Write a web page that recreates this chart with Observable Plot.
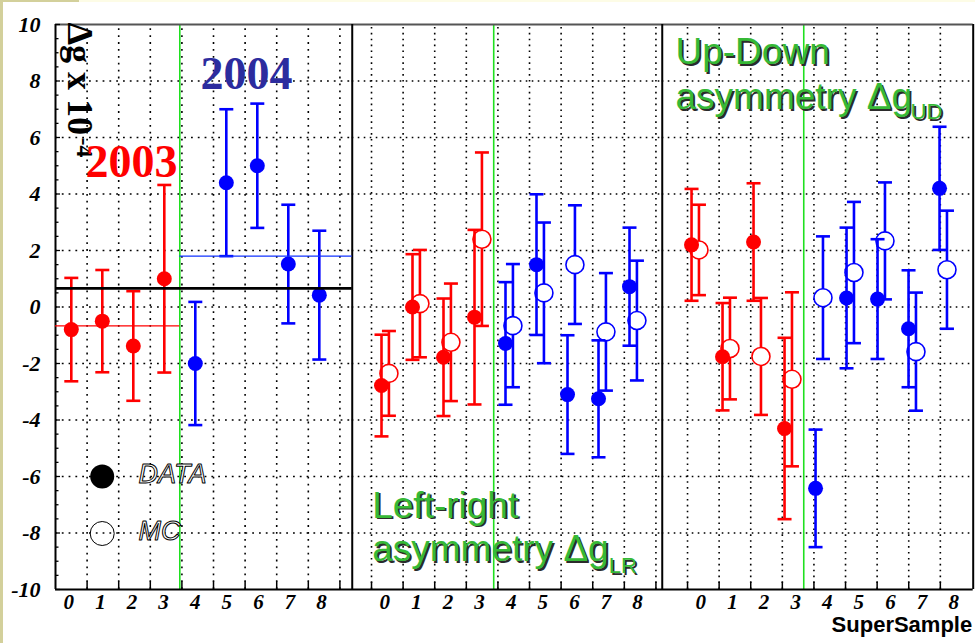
<!DOCTYPE html>
<html>
<head>
<meta charset="utf-8">
<script src="https://cdn.jsdelivr.net/npm/d3@7"></script>
<script src="https://cdn.jsdelivr.net/npm/@observablehq/plot@0.6"></script>
<style>
  html, body { margin: 0; padding: 0; background: #ffffff; }
  #wrap { position: relative; width: 975px; height: 643px; overflow: hidden; background: #ffffff; }
  #topband { position: absolute; left: 0; top: 0; width: 975px; height: 2px; background: #fdfce6; }
  #topband2 { position: absolute; left: 0; top: 0; width: 79px; height: 2px; background: #d3d09b; }
  #leftband { position: absolute; left: 0; top: 0; width: 3px; height: 643px; background: #d3d09b; }
  #chart { position: absolute; left: 0; top: 0; }
</style>
</head>
<body>
<div id="wrap">
  <div id="topband"></div><div id="topband2"></div><div id="leftband"></div>
  <div id="chart"></div>
</div>
<script>
// ---- data: g-2 asymmetries per super-sample, in units of 1e-4 ----
const samples = [0, 1, 2, 3, 4, 5, 6, 7, 8];
const sampleYear = ["2003", "2003", "2003", "2003", "2004", "2004", "2004", "2004", "2004"];

// combined Δg (data only)
const dgData    = [-0.80, -0.50, -1.38, 1.00, -2.00, 4.40, 5.00, 1.52, 0.42];
const dgDataErr = [ 1.83,  1.81,  1.94, 3.32,  2.18, 2.60, 2.20, 2.10, 2.28];

// left-right asymmetry Δg_LR
const lrData    = [-2.78, 0.00, -1.78, -0.36, -1.29, 1.50, -3.10, -3.25,  0.72];
const lrDataErr = [ 1.80, 1.87,  2.08,  3.09,  2.17, 2.49,  2.10,  2.07,  2.09];
const lrMC      = [-2.35, 0.12, -1.25,  2.40, -0.66, 0.50,  1.50, -0.88, -0.48];
const lrMCErr   = [ 1.50, 1.90,  2.08,  3.07,  2.18, 2.49,  2.10,  2.08,  2.12];

// up-down asymmetry Δg_UD
const udData    = [2.20, -1.76, 2.30, -4.30, -6.42, 0.32, 0.28, -0.77, 4.20];
const udDataErr = [1.98,  1.90, 2.08,  3.21,  2.08, 2.49, 2.12,  2.07, 2.18];
const udMC      = [2.02, -1.47, -1.75, -2.56, 0.33, 1.22, 2.34, -1.58, 1.32];
const udMCErr   = [1.60,  1.80,  2.07,  3.08, 2.17, 2.50, 2.07,  2.09, 2.09];

// weighted averages drawn in the first panel
const mean2003 = -0.67;
const mean2004 = 1.80;
const meanAll = 0.66;

const yTickValues = [10, 8, 6, 4, 2, 0, -2, -4, -6, -8, -10];
const yTickLabels = ["10", "8", "6", "4", "2", "0", "-2", "-4", "-6", "-8", "-10"];
const xTickLabels = ["0", "1", "2", "3", "4", "5", "6", "7", "8"];

// ---- layout (x axis measured in bin widths, three panels side by side) ----
const binOrigin = [0, 10, 20];            // axis bin centre of sample 0 in each panel
const panelStart = [0, 9.816, 19.627];    // where the markers of sample 0 sit
const step = 0.981;                        // marker spacing
const mcShift = 0.235;                     // MC drawn just right of DATA
const frameX = [-0.5, 8.89, 18.7, 28.54];  // panel borders

const yearColor = {"2003": "#ff0000", "2004": "#0000ff"};

const series = [
  {panel: 0, kind: "DATA", values: dgData, errs: dgDataErr},
  {panel: 1, kind: "MC",   values: lrMC,   errs: lrMCErr},
  {panel: 1, kind: "DATA", values: lrData, errs: lrDataErr},
  {panel: 2, kind: "MC",   values: udMC,   errs: udMCErr},
  {panel: 2, kind: "DATA", values: udData, errs: udDataErr}
];
const points = series.flatMap(s => samples.map(i => ({
  panel: s.panel, kind: s.kind, sample: i, year: sampleYear[i],
  v: s.values[i], e: s.errs[i]
})));
const dataPts = points.filter(d => d.kind === "DATA");
const mcPts = points.filter(d => d.kind === "MC");
const xPos = d => panelStart[d.panel] + step * d.sample + (d.kind === "MC" ? mcShift : 0);

// year boundary inside each panel
const boundaries = [0, 1, 2].map(p => panelStart[p] + step * 3.5 + (p > 0 ? mcShift / 2 : 0));

// bin edges (grid + ticks)
const edges = [
  ...d3.range(0, 9).map(k => binOrigin[0] + k + 0.5),
  ...d3.range(-1, 9).map(k => binOrigin[1] + k + 0.5),
  ...d3.range(-1, 8).map(k => binOrigin[2] + k + 0.5)
];
const edgesP1 = edges.filter(x => x < frameX[1]);
const edgesP23 = edges.filter(x => x > frameX[1]);
const gridY = [-8, -6, -4, -2, 0, 2, 4, 6, 8];
const gridRowsP1 = gridY.map(y => ({y, x1: frameX[0], x2: frameX[1]}));
const gridRowsP23 = gridY.flatMap(y => [1, 2].map(p => ({y, x1: frameX[p], x2: frameX[p + 1]})));

const xLabels = [0, 1, 2].flatMap(p => samples.map(i => ({x: binOrigin[p] + i, label: xTickLabels[i]})));
const yLabels = yTickValues.map((v, k) => ({v, label: yTickLabels[k]}));
const minorY = d3.range(-10, 10.01, 0.5);

// small stroke-only symbols
const capSymbol = {draw(ctx, size) { const w = Math.sqrt(size / Math.PI); ctx.moveTo(-w, 0); ctx.lineTo(w, 0); }};
const tickUp = {draw(ctx, size) { const w = Math.sqrt(size / Math.PI); ctx.moveTo(0, 0); ctx.lineTo(0, -w); }};
const tickRight = {draw(ctx, size) { const w = Math.sqrt(size / Math.PI); ctx.moveTo(0, 0); ctx.lineTo(w, 0); }};

const serif = "'Liberation Serif', 'DejaVu Serif', serif";
const sans = "'Liberation Sans', Arial, sans-serif";
const green = "#36b936";

const note = (text, o) => Plot.text([text], {
  text: d => d, frameAnchor: "top-left", textAnchor: "start", lineAnchor: "middle", ...o
});
const greenNote = (text, o) => [
  note(text, {...o, fill: "#2b2b2b", dx: o.dx + 1.8, dy: o.dy + 1.8}),
  note(text, {...o, fill: green})
];

const errorBars = (pts, width) => [
  Plot.ruleX(pts, {x: xPos, y1: d => d.v - d.e, y2: d => d.v + d.e, stroke: d => yearColor[d.year], strokeWidth: width}),
  Plot.dot(pts, {x: xPos, y: d => d.v + d.e, symbol: capSymbol, r: 7, fill: "none", stroke: d => yearColor[d.year], strokeWidth: width}),
  Plot.dot(pts, {x: xPos, y: d => d.v - d.e, symbol: capSymbol, r: 7, fill: "none", stroke: d => yearColor[d.year], strokeWidth: width})
];

const chart = Plot.plot({
  width: 975,
  height: 643,
  marginLeft: 55,
  marginRight: 2.3,
  marginTop: 24,
  marginBottom: 54,
  x: {domain: [frameX[0], frameX[3]], axis: null},
  y: {domain: [-10, 10], axis: null},
  style: {background: "transparent", overflow: "visible"},
  marks: [
    // dotted grid
    Plot.ruleX(edgesP1, {x: d => d, y1: -10, y2: 10, stroke: "#000", strokeWidth: 1.6, strokeDasharray: "1.8,5.1"}),
    Plot.ruleY(gridRowsP1, {y: "y", x1: "x1", x2: "x2", stroke: "#000", strokeWidth: 1.6, strokeDasharray: "1.8,5"}),
    Plot.ruleX(edgesP23, {x: d => d, y1: -10, y2: 10, stroke: "#000", strokeWidth: 1.6, strokeDasharray: "1.6,4.3"}),
    Plot.ruleY(gridRowsP23, {y: "y", x1: "x1", x2: "x2", stroke: "#000", strokeWidth: 1.6, strokeDasharray: "1.6,4.4"}),

    // 2003 / 2004 boundary
    Plot.ruleX(boundaries, {x: d => d, y1: -10, y2: 10, stroke: "#1fe01f", strokeWidth: 1.6}),

    // frame
    Plot.ruleY([10], {x1: frameX[0], x2: frameX[3], stroke: "#555", strokeWidth: 2}),
    Plot.ruleY([-10], {x1: frameX[0], x2: frameX[3], stroke: "#000", strokeWidth: 2}),
    Plot.ruleX(frameX, {y1: -10, y2: 10, stroke: "#000", strokeWidth: 2}),

    // axis ticks
    Plot.dot(edges, {x: d => d, y: -10, symbol: tickUp, r: 8, fill: "none", stroke: "#000", strokeWidth: 1.5}),
    Plot.dot(minorY, {x: frameX[0], y: d => d, symbol: tickRight, r: d => (Math.round(d * 2) % 4 === 0 ? 9 : 4), fill: "none", stroke: "#000", strokeWidth: 1.3}),

    // MC then DATA
    ...errorBars(mcPts, 2.6),
    Plot.dot(mcPts, {x: xPos, y: "v", r: 9, fill: "white", stroke: d => yearColor[d.year], strokeWidth: 1.6}),
    ...errorBars(dataPts, 2.6),
    Plot.dot(dataPts, {x: xPos, y: "v", r: 7.5, fill: d => yearColor[d.year]}),

    // averages in the first panel
    Plot.ruleY([mean2003], {x1: frameX[0], x2: boundaries[0], stroke: "#ff0000", strokeWidth: 1.3}),
    Plot.ruleY([mean2004], {x1: boundaries[0], x2: frameX[1], stroke: "#1133ff", strokeWidth: 1.3}),
    Plot.ruleY([meanAll], {x1: frameX[0], x2: frameX[1], stroke: "#000", strokeWidth: 2.6}),

    // tick labels
    Plot.text(xLabels, {x: "x", y: -10, dy: 12.5, dx: -2.5, text: "label", fontSize: 21, fontWeight: "bold", fontStyle: "italic", fontFamily: serif, fill: "#000"}),
    Plot.text(yLabels, {x: frameX[0], y: "v", dx: -15, text: "label", textAnchor: "end", fontSize: 22, fontWeight: "bold", fontStyle: "italic", fontFamily: serif, fill: "#000"}),
    Plot.text(["SuperSample"], {text: d => d, frameAnchor: "bottom-right", textAnchor: "end", dx: -1, dy: 42.5, fontSize: 22, fontWeight: "bold", fontFamily: sans, fill: "#000"}),

    // y title, reading downwards
    note("Δg x 10", {dx: 12, dy: -2, rotate: 90, lineAnchor: "bottom", fontSize: 36, fontWeight: "bold", fontFamily: serif, fill: "#000"}),
    note("-4", {dx: 21.5, dy: 113, rotate: 90, lineAnchor: "bottom", fontSize: 24, fontWeight: "bold", fontFamily: serif, fill: "#000"}),

    // year labels
    note("2003", {dx: 30, dy: 138, fontSize: 46, fontWeight: "bold", fontFamily: serif, fill: "#ff0000"}),
    note("2004", {dx: 145, dy: 49.5, fontSize: 46, fontWeight: "bold", fontFamily: serif, fill: "#2c2c9e"}),

    // legend
    Plot.dot([0], {frameAnchor: "top-left", dx: 46.7, dy: 452, r: 12, fill: "#000"}),
    Plot.dot([0], {frameAnchor: "top-left", dx: 46.7, dy: 509, r: 12, fill: "none", stroke: "#000", strokeWidth: 1}),
    note("DATA", {dx: 83, dy: 450, fontSize: 27, fontStyle: "italic", fontFamily: sans, fill: "#fff", stroke: "#000", strokeWidth: 1, paintOrder: "fill"}),
    note("MC", {dx: 83, dy: 507, fontSize: 27, fontStyle: "italic", fontFamily: sans, fill: "#fff", stroke: "#000", strokeWidth: 1, paintOrder: "fill"}),

    // panel titles
    ...greenNote("Left-right", {dx: 316.7, dy: 481.2, fontSize: 37, fontFamily: sans}),
    ...greenNote("asymmetry Δg", {dx: 316.7, dy: 524.5, fontSize: 37, fontFamily: sans}),
    ...greenNote("LR", {dx: 553.3, dy: 541.3, fontSize: 22, fontFamily: sans}),
    ...greenNote("Up-Down", {dx: 620, dy: 27.8, fontSize: 37, fontFamily: sans}),
    ...greenNote("asymmetry Δg", {dx: 620, dy: 72.8, fontSize: 37, fontFamily: sans}),
    ...greenNote("UD", {dx: 855, dy: 87.3, fontSize: 22, fontFamily: sans})
  ]
});

document.getElementById("chart").appendChild(chart);
</script>
</body>
</html>
